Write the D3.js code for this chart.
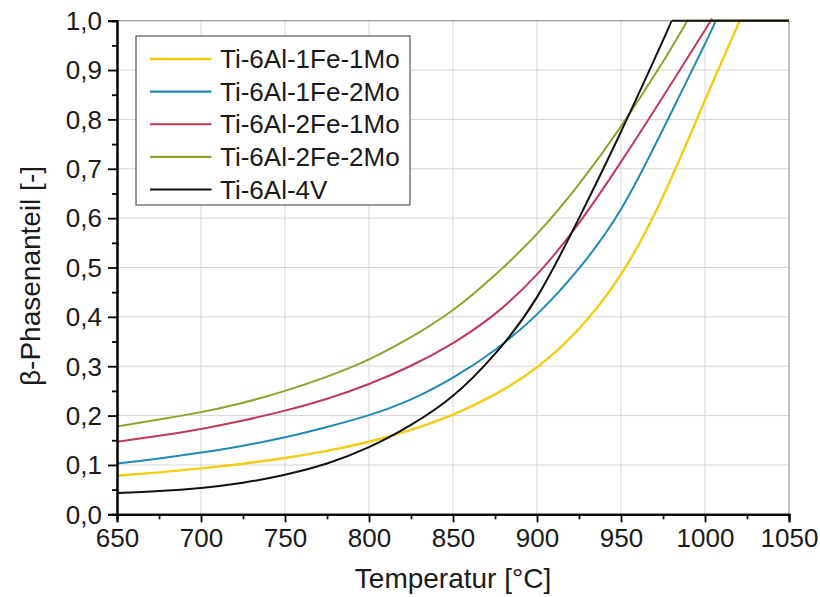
<!DOCTYPE html>
<html>
<head>
<meta charset="utf-8">
<script src="https://cdn.jsdelivr.net/npm/d3@7"></script>
<style>
  html, body { margin: 0; padding: 0; background: #fff; }
  svg { display: block; font-family: Arial, "Liberation Sans", sans-serif; }
</style>
</head>
<body>
<svg id="chart" width="820" height="597"></svg>
<script>
// ---- data ----
const seriesNames = ["Ti-6Al-1Fe-1Mo", "Ti-6Al-1Fe-2Mo", "Ti-6Al-2Fe-1Mo", "Ti-6Al-2Fe-2Mo", "Ti-6Al-4V"];
const seriesColors = ["#f4cc12", "#1f8ab5", "#c0395a", "#8aa52a", "#111111"];

const tempGrid = [650, 675, 700, 725, 750, 775, 800, 825, 850, 875, 900, 925, 950, 975, 1000];

const val1Fe1Mo = [0.078, 0.085, 0.093, 0.1025, 0.114, 0.1285, 0.147, 0.171, 0.202, 0.243, 0.298, 0.376, 0.486, 0.644, 0.839];
const val1Fe2Mo = [0.103, 0.113, 0.125, 0.139, 0.156, 0.177, 0.201, 0.233, 0.277, 0.333, 0.405, 0.498, 0.618, 0.780, 0.953];
const val2Fe1Mo = [0.147, 0.159, 0.173, 0.190, 0.210, 0.234, 0.264, 0.301, 0.347, 0.406, 0.486, 0.590, 0.714, 0.846, 0.981];
const val2Fe2Mo = [0.178, 0.192, 0.207, 0.226, 0.250, 0.279, 0.314, 0.359, 0.414, 0.485, 0.568, 0.669, 0.786, 0.917];
const val4V     = [0.043, 0.047, 0.0535, 0.064, 0.080, 0.103, 0.136, 0.181, 0.240, 0.325, 0.440, 0.600, 0.775, 0.960];

// temperature where each alloy reaches 100 % beta phase
const betaTransus = [1020.7, 1006.3, 1003.3, 989.5, 980.2];

const seriesValues = [val1Fe1Mo, val1Fe2Mo, val2Fe1Mo, val2Fe2Mo, val4V];

const xTicks = [650, 700, 750, 800, 850, 900, 950, 1000, 1050];
const xMinor = [675, 725, 775, 825, 875, 925, 975, 1025];
const yTicks = [0, 0.1, 0.2, 0.3, 0.4, 0.5, 0.6, 0.7, 0.8, 0.9, 1.0];
const yMinor = [0.05, 0.15, 0.25, 0.35, 0.45, 0.55, 0.65, 0.75, 0.85, 0.95];

const xLabel = "Temperatur [°C]";
const yLabel = "β-Phasenanteil [-]";

// ---- layout ----
const svg = d3.select("#chart");
const pL = 117, pR = 789, pT = 20.7, pB = 514.3;

const x = d3.scaleLinear().domain([650, 1050]).range([pL, pR]);
const y = d3.scaleLinear().domain([0, 1]).range([pB, pT]);

const fmt = d => d3.format(".1f")(d).replace(".", ",");

// grid
const grid = svg.append("g");
grid.selectAll("line.vx").data(xTicks.slice(1, -1)).join("line")
  .attr("x1", d => x(d)).attr("x2", d => x(d))
  .attr("y1", pT).attr("y2", pB)
  .attr("stroke", "#d6d6d6").attr("stroke-width", 1);
grid.selectAll("line.hy").data(yTicks.slice(1, -1)).join("line")
  .attr("x1", pL).attr("x2", pR)
  .attr("y1", d => y(d)).attr("y2", d => y(d))
  .attr("stroke", "#d6d6d6").attr("stroke-width", 1);

// frame top/right
svg.append("line").attr("x1", pL).attr("x2", pR).attr("y1", pT).attr("y2", pT)
  .attr("stroke", "#9a9a9a").attr("stroke-width", 1.2);
svg.append("line").attr("x1", pR).attr("x2", pR).attr("y1", pT).attr("y2", pB)
  .attr("stroke", "#9a9a9a").attr("stroke-width", 1.2);

// curves
const rise = d3.line().x(d => x(d[0])).y(d => y(d[1])).curve(d3.curveNatural);
const flat = d3.line().x(d => x(d[0])).y(d => y(d[1]));

const curves = svg.append("g");
seriesValues.forEach((vals, i) => {
  const pts = vals.map((v, j) => [tempGrid[j], v]);
  pts.push([betaTransus[i], 1]);
  curves.append("path").attr("d", rise(pts))
    .attr("fill", "none").attr("stroke", seriesColors[i])
    .attr("stroke-width", i === 0 ? 2.4 : 2).attr("stroke-linejoin", "round");
  curves.append("path").attr("d", flat([[betaTransus[i], 1], [1050, 1]]))
    .attr("fill", "none").attr("stroke", seriesColors[i])
    .attr("stroke-width", 2);
});

// axes
const axX = svg.append("g").attr("transform", `translate(0,${pB})`)
  .call(d3.axisBottom(x).tickValues(xTicks).tickSize(8).tickPadding(6).tickFormat(d3.format("d")));
const axXm = svg.append("g").attr("transform", `translate(0,${pB})`)
  .call(d3.axisBottom(x).tickValues(xMinor).tickSize(5).tickFormat(""));
const axY = svg.append("g").attr("transform", `translate(${pL},0)`)
  .call(d3.axisLeft(y).tickValues(yTicks).tickSize(9).tickPadding(6).tickFormat(fmt));
const axYm = svg.append("g").attr("transform", `translate(${pL},0)`)
  .call(d3.axisLeft(y).tickValues(yMinor).tickSize(5).tickFormat(""));

[axX, axXm, axY, axYm].forEach(g => {
  g.select(".domain").attr("stroke", "#000").attr("stroke-width", 2);
  g.selectAll(".tick line").attr("stroke", "#000").attr("stroke-width", 1.8);
  g.selectAll("text").attr("fill", "#1a1a1a")
    .style("font-family", "Arial, 'Liberation Sans', sans-serif").style("font-size", "26px");
});
axX.selectAll("text").attr("dy", "0.71em");
axY.selectAll("text").attr("dy", "0.34em");

// axis titles
svg.append("text").attr("x", 453).attr("y", 588).attr("text-anchor", "middle")
  .style("font-size", "28px").attr("fill", "#1a1a1a").text(xLabel);
svg.append("text").attr("transform", "translate(40,276) rotate(-90)").attr("text-anchor", "middle")
  .style("font-size", "28px").attr("fill", "#1a1a1a").text(yLabel);

// legend
const lg = svg.append("g");
lg.append("rect").attr("x", 136).attr("y", 36).attr("width", 274).attr("height", 169)
  .attr("fill", "#fff").attr("stroke", "#555").attr("stroke-width", 1.2);
const rowY = d3.scaleLinear().domain([0, 4]).range([59, 189.5]);
seriesNames.forEach((name, i) => {
  lg.append("line").attr("x1", 150).attr("x2", 211.5)
    .attr("y1", rowY(i)).attr("y2", rowY(i))
    .attr("stroke", seriesColors[i]).attr("stroke-width", i === 0 ? 2.6 : 2.2);
  lg.append("text").attr("x", 220).attr("y", rowY(i)).attr("dy", "0.35em")
    .style("font-size", "26px").attr("fill", "#1a1a1a").text(name);
});
</script>
</body>
</html>
